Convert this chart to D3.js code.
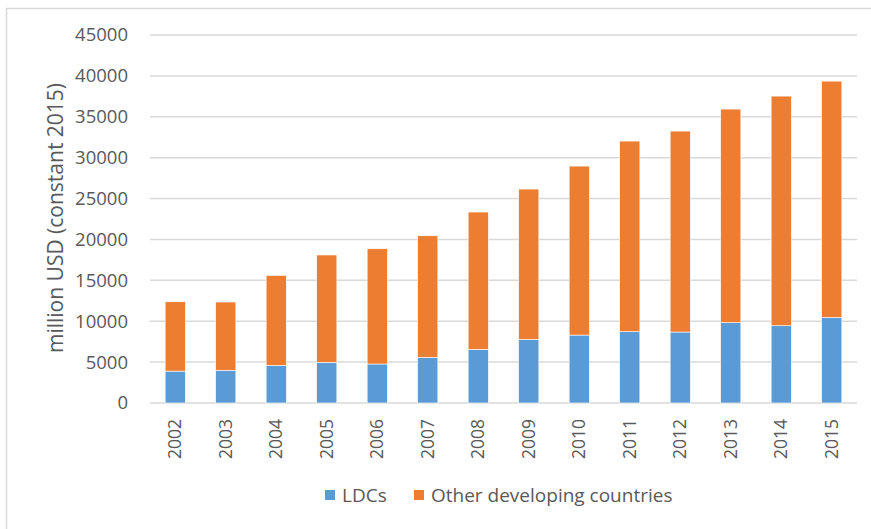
<!DOCTYPE html>
<html>
<head>
<meta charset="utf-8">
<script src="https://cdn.jsdelivr.net/npm/d3@7"></script>
<style>
  body { margin: 0; background: #fff; }
  text { font-family: "Open Sans", sans-serif; fill: #595959; }
</style>
</head>
<body>
<div id="chart"></div>
<script>
// data (million USD, constant 2015)
var years = ["2002","2003","2004","2005","2006","2007","2008","2009","2010","2011","2012","2013","2014","2015"];
var ldcs  = [3900, 4000, 4600, 4970, 4770, 5580, 6560, 7780, 8310, 8720, 8680, 9820, 9450, 10470];
var other = [8480, 8350, 11000, 13130, 14090, 14870, 16790, 18380, 20660, 23310, 24570, 26120, 28080, 28890];
var yTicks = [0, 5000, 10000, 15000, 20000, 25000, 30000, 35000, 40000, 45000];
var seriesNames = ["LDCs", "Other developing countries"];
var colors = ["#5b9bd5", "#ed7d31"];

var W = 871, H = 529;
var margin = {top: 35, right: 14, bottom: 126, left: 150},
    width = W - margin.left - margin.right,
    height = H - margin.top - margin.bottom;

var root = d3.select("#chart")
  .append("svg")
    .attr("width", W)
    .attr("height", H);

// outer frame
root.append("rect")
  .attr("x", 6.5).attr("y", 8.5)
  .attr("width", 900).attr("height", 600)
  .attr("fill", "none")
  .attr("stroke", "#d9d9d9")
  .attr("stroke-width", 1.5);

var svg = root.append("g")
  .attr("transform", "translate(" + margin.left + "," + margin.top + ")");

var x = d3.scaleBand()
  .domain(years)
  .range([0, width])
  .paddingInner(0.6)
  .paddingOuter(0.3);

var y = d3.scaleLinear()
  .domain([0, 45000])
  .range([height, 0]);

// grid lines
svg.append("g")
  .selectAll("line")
  .data(yTicks)
  .enter().append("line")
    .attr("x1", 0).attr("x2", width)
    .attr("y1", function(d) { return y(d) })
    .attr("y2", function(d) { return y(d) })
    .attr("stroke", "#d9d9d9")
    .attr("stroke-width", 1.5);

// y axis labels
var yAxis = svg.append("g")
  .call(d3.axisLeft(y).tickValues(yTicks).tickSize(0).tickPadding(22).tickFormat(d3.format("d")));
yAxis.select(".domain").remove();
yAxis.selectAll("text")
  .style("font-family", "'Open Sans', sans-serif")
  .attr("fill", "#595959")
  .style("font-size", "18.5px");

// x axis labels (rotated)
var xAxis = svg.append("g")
  .attr("transform", "translate(0," + height + ")")
  .call(d3.axisBottom(x).tickSize(0));
xAxis.select(".domain").remove();
xAxis.selectAll("text")
  .style("font-family", "'Open Sans', sans-serif")
  .attr("fill", "#595959")
  .style("font-size", "17.5px")
  .attr("transform", "rotate(-90)")
  .attr("text-anchor", "end")
  .attr("x", -16)
  .attr("y", 0)
  .attr("dy", "0.35em");

// stacked bars
var table = years.map(function(yr, i) {
  return {year: yr, ldcs: ldcs[i], other: other[i]};
});
var stack = d3.stack().keys(["ldcs", "other"])(table);

svg.append("g")
  .selectAll("g")
  .data(stack)
  .enter().append("g")
    .attr("fill", function(d, i) { return colors[i] })
  .selectAll("rect")
  .data(function(d) { return d })
  .enter().append("rect")
    .attr("x", function(d) { return x(d.data.year) })
    .attr("y", function(d) { return y(d[1]) })
    .attr("width", x.bandwidth())
    .attr("height", function(d) { return y(d[0]) - y(d[1]) })
    .attr("stroke", "#fff")
    .attr("stroke-width", 0.6);

// y axis title
root.append("text")
  .attr("transform", "translate(63," + (margin.top + 183) + ") rotate(-90)")
  .attr("text-anchor", "middle")
  .style("font-size", "21px")
  .text("million USD (constant 2015)");

// legend
var legend = root.append("g").attr("transform", "translate(0,495)");
var legX = [325, 414];
seriesNames.forEach(function(name, i) {
  legend.append("rect")
    .attr("x", legX[i]).attr("y", -5)
    .attr("width", 10).attr("height", 10)
    .attr("fill", colors[i]);
  legend.append("text")
    .attr("x", legX[i] + 17)
    .attr("y", 0)
    .attr("dy", "0.35em")
    .style("font-size", "19px")
    .text(name);
});
</script>
</body>
</html>
